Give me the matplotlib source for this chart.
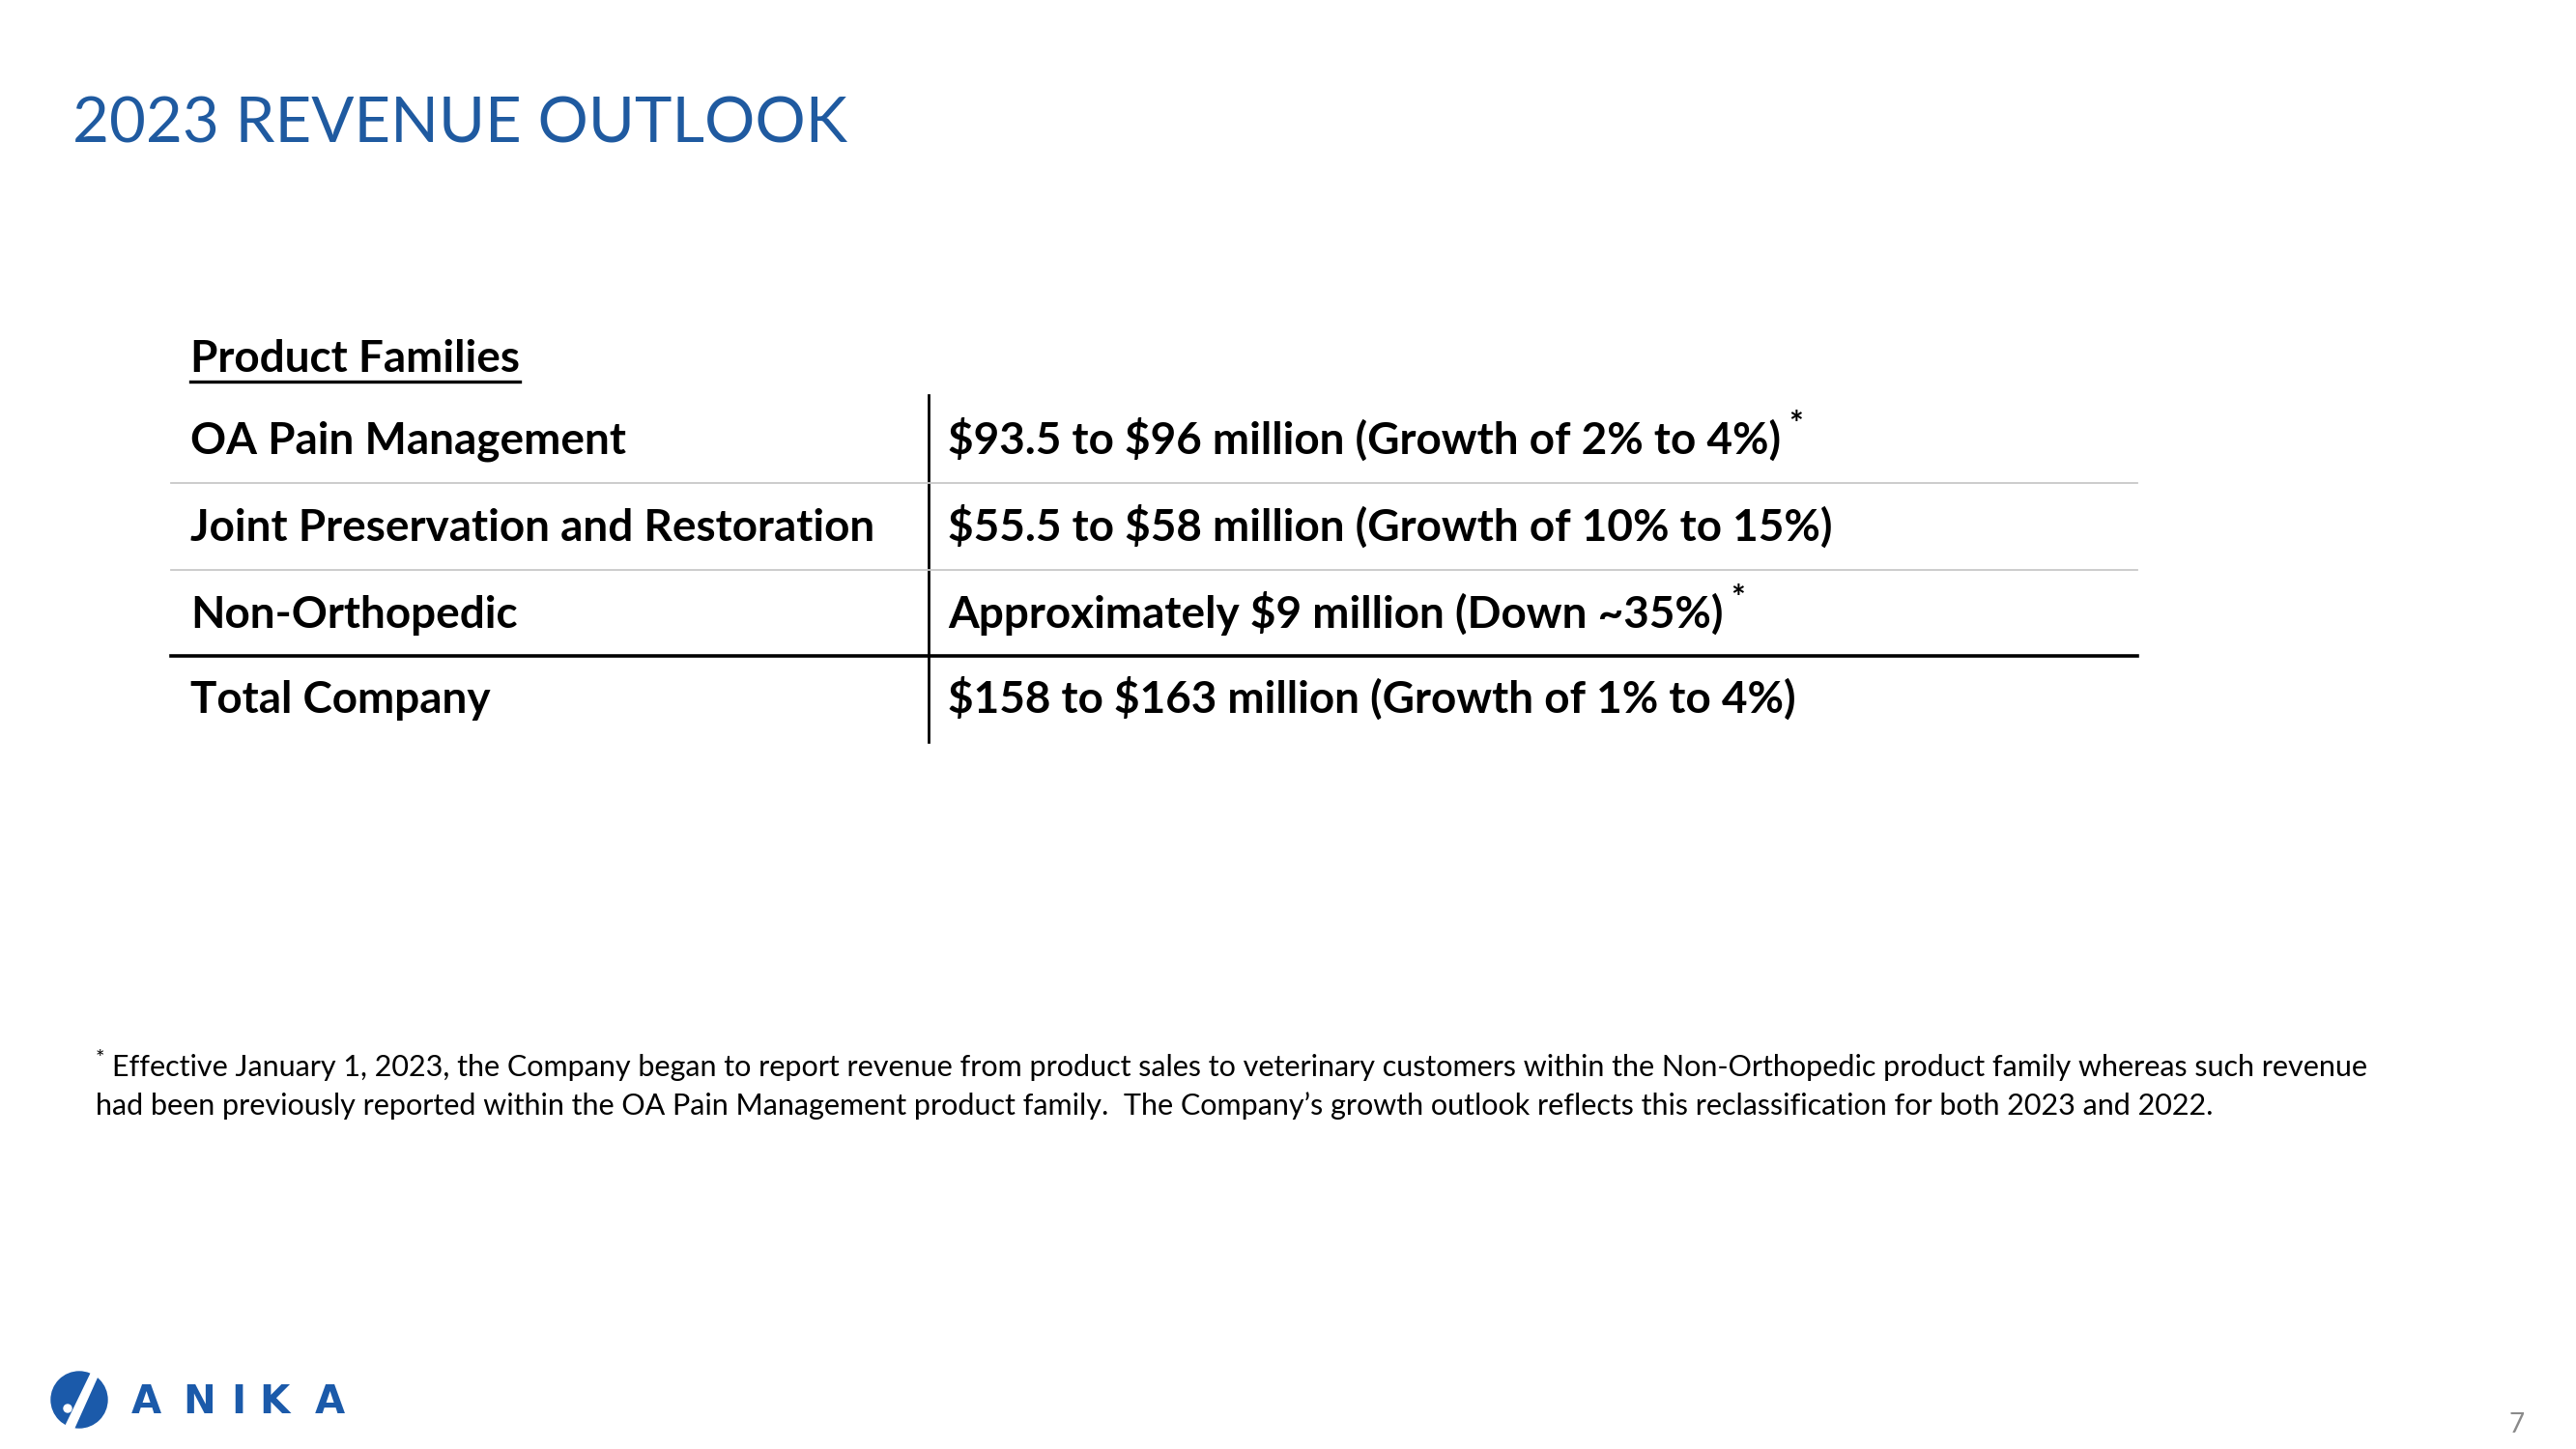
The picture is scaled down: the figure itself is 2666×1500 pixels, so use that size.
import matplotlib.pyplot as plt
from matplotlib.patches import Circle, Polygon

plt.rcParams["text.parse_math"] = False

# Slide text
title = "2023 REVENUE OUTLOOK"
header = "Product Families"
families = ["OA Pain Management", "Joint Preservation and Restoration",
            "Non-Orthopedic", "Total Company"]
outlooks = ["$93.5 to $96 million (Growth of 2% to 4%)",
            "$55.5 to $58 million (Growth of 10% to 15%)",
            "Approximately $9 million (Down ~35%)",
            "$158 to $163 million (Growth of 1% to 4%)"]
starred = [True, False, True, False]
footnote = ["Effective January 1, 2023, the Company began to report revenue from product sales to veterinary customers within the Non-Orthopedic product family whereas such revenue",
            "had been previously reported within the OA Pain Management product family.  The Company\u2019s growth outlook reflects this reclassification for both 2023 and 2022."]
page = "7"

BLUE = "#1F5AA0"
FONT = "Lato"
W, H = 2666, 1500

fig = plt.figure(figsize=(W / 100, H / 100), dpi=100)
ax = fig.add_axes([0, 0, 1, 1])
ax.set_xlim(0, W)
ax.set_ylim(H, 0)
ax.axis("off")
r = fig.canvas.get_renderer()


def right_px(t):
    bb = t.get_window_extent(renderer=r)
    return bb.x1


ax.text(75, 147, title, fontsize=47, color=BLUE, family=FONT, va="baseline")

# header with underline
h = ax.text(197, 385, header, fontsize=33, fontweight="bold", family=FONT, va="baseline")
ax.plot([197, right_px(h)], [395, 395], color="black", lw=2.4)

row_base = [470, 560, 650, 738]
for i, (fam, out) in enumerate(zip(families, outlooks)):
    ax.text(197, row_base[i], fam, fontsize=33, fontweight="bold", family=FONT, va="baseline")
    t = ax.text(981, row_base[i], out, fontsize=33, fontweight="bold", family=FONT, va="baseline")
    if starred[i]:
        ax.text(right_px(t) + 8, row_base[i] - 20, "*", fontsize=25, fontweight="bold",
                family=FONT, va="baseline")

# table rules
ax.plot([961, 961], [409, 768], color="black", lw=2)
for y in [500, 590]:
    ax.plot([177, 2212], [y, y], color="#C8C8C8", lw=1.3)
ax.plot([177, 2212], [679, 679], color="black", lw=2.6)

# footnote
ax.text(99, 1102, "*", fontsize=16, family=FONT, va="baseline")
ax.text(116, 1114, footnote[0], fontsize=22, family=FONT, va="baseline")
ax.text(99, 1154, footnote[1], fontsize=22, family=FONT, va="baseline")

# logo
ax.add_patch(Circle((82, 1449), 29, color="#1B5AAA"))
ax.add_patch(Polygon([[66, 1480], [96, 1418], [103, 1420], [76, 1480]], closed=True, color="white"))
ax.add_patch(Circle((70, 1458), 4, color="white"))
for x, ch in zip([151, 206, 247, 284, 341], "ANIKA"):
    ax.text(x, 1463, ch, fontsize=29, fontweight="bold", color="#1B5AAA", family="DejaVu Sans",
            ha="center", va="baseline")

ax.text(2605, 1483, page, fontsize=20, color="#8A8A8A", family=FONT, ha="center", va="baseline")

fig.savefig("out.png", dpi=100, facecolor="white")
